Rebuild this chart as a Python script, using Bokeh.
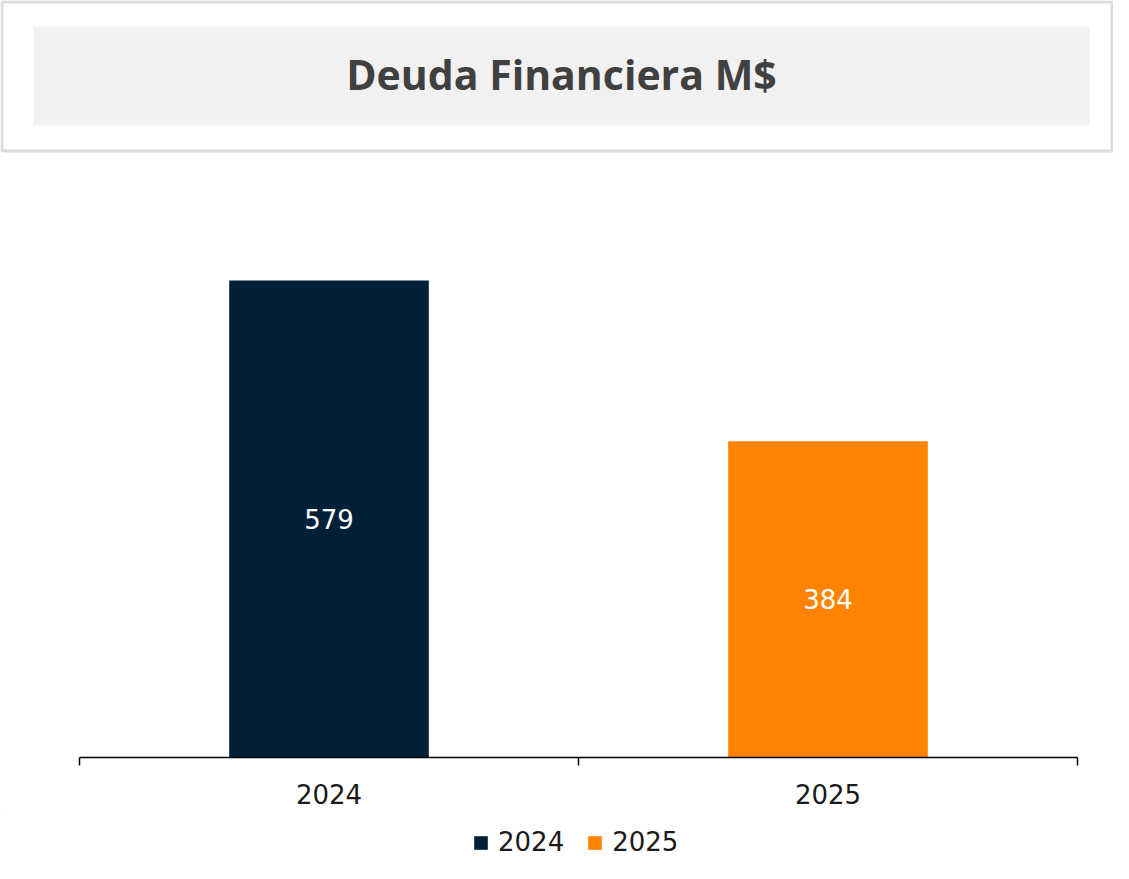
from bokeh.plotting import figure
from bokeh.models import Range1d, FixedTicker, Legend, LegendItem, ColumnDataSource
from bokeh.layouts import column
from bokeh.core.properties import value
from bokeh.embed import file_html
from bokeh.resources import INLINE

title_text = "Deuda Financiera M$"
categories = ["2024", "2025"]
values = [579, 384]
colors = ["#001f38", "#ff8300"]

TITLE_FONT = "Open Sans"
FONT = "DejaVu Sans"
W = 1113
HM = 815                     # main figure height
HL = 863 - HM                # legend strip height
FRAME_BOTTOM = 757           # px from top of canvas
AX_LEFT, AX_RIGHT = 79, 1077 # px positions of the category axis ends
BAR_TOP_PX = 280             # px where the largest bar ends
n = len(categories)
kx = (AX_RIGHT - AX_LEFT) / n
ky = (FRAME_BOTTOM - BAR_TOP_PX) / max(values)

x_start = -AX_LEFT / kx
x_end = n + (W - AX_RIGHT) / kx
y_end = FRAME_BOTTOM / ky

def dx(px):  # canvas px -> data x
    return x_start + px / kx

def dy(py):  # canvas px (from top) -> data y
    return (FRAME_BOTTOM - py) / ky

p = figure(width=W, height=HM, x_range=Range1d(x_start, x_end), y_range=Range1d(0, y_end),
           output_backend="svg", toolbar_location=None, y_axis_location=None,
           min_border_left=0, min_border_right=0, min_border_top=0,
           min_border_bottom=HM - FRAME_BOTTOM)
p.grid.visible = False
p.outline_line_color = None

# header decoration
p.quad(left=[dx(1.5)], right=[dx(W - 1.5)], bottom=[dy(150.5)], top=[dy(1.5)],
       fill_color=None, line_color="#dcdcdc", line_width=3)
p.quad(left=[dx(33)], right=[dx(1089)], bottom=[dy(125)], top=[dy(26)],
       fill_color="#f1f1f1", line_color=None)
p.text(x=[dx(561)], y=[dy(73)], text=[title_text], text_align="center",
       text_baseline="middle", text_font=value(TITLE_FONT), text_font_style="bold",
       text_font_size="41px", text_color="#404040")

# bars
xs = [i + 0.5 for i in range(n)]
src = ColumnDataSource(dict(x=xs, half=[v / 2 for v in values], lab=[str(v) for v in values]))
for i, c in enumerate(categories):
    p.vbar(x=[xs[i]], top=[values[i]], width=0.4, fill_color=colors[i], line_color=None)

p.text(x="x", y="half", text="lab", source=src, text_align="center", text_baseline="middle",
       text_font=value(FONT), text_font_size="26px", text_color="white")

ax = p.xaxis[0]
ax.bounds = (0, n)
ax.ticker = FixedTicker(ticks=xs, minor_ticks=list(range(n + 1)))
ax.major_label_overrides = {x: c for x, c in zip(xs, categories)}
ax.axis_line_color = "black"
ax.axis_line_width = 1.5
ax.major_tick_in = 0
ax.major_tick_out = 0
ax.minor_tick_in = 0
ax.minor_tick_out = 8
ax.minor_tick_line_color = "black"
ax.minor_tick_line_width = 1.5
ax.major_label_text_font = FONT
ax.major_label_text_font_size = "26px"
ax.major_label_text_color = "#1a1a1a"
ax.major_label_standoff = 18

# legend strip (its bars lie fully outside the visible ranges; only the legend shows)
lg = figure(width=W, height=HL, x_range=Range1d(n + 2, n + 3), y_range=Range1d(-3, -2),
            output_backend="svg", toolbar_location=None,
            x_axis_location=None, y_axis_location=None,
            min_border_left=0, min_border_right=0, min_border_top=0, min_border_bottom=0)
lg.grid.visible = False
lg.outline_line_color = None
items = []
for i, c in enumerate(categories):
    r = lg.vbar(x=[xs[i]], top=[values[i]], width=0.4, fill_color=colors[i], line_color=None)
    items.append(LegendItem(label=c, renderers=[r]))
legend = Legend(items=items, orientation="horizontal", location=(472, 6),
                glyph_width=17, glyph_height=17, label_height=17, label_standoff=9, spacing=22,
                label_text_font=FONT, label_text_font_size="26px", label_text_color="#1a1a1a",
                border_line_color=None, background_fill_alpha=0, padding=0, margin=0)
lg.add_layout(legend, "center")

layout = column(p, lg, spacing=0)
open("out.html", "w").write(file_html(layout, INLINE))
